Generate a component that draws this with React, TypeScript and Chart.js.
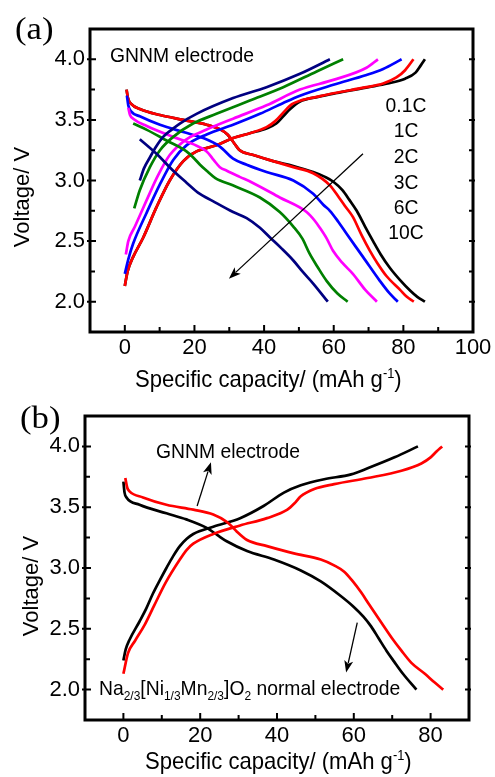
import React, { useEffect, useRef } from "react";
import { Chart, registerables } from "chart.js";
Chart.register(...registerables);

type Pt = [number, number];

const SANS = '"Liberation Sans", Arial, Helvetica, sans-serif';
const SERIF = '"Liberation Serif", "Times New Roman", serif';

// ---------- Panel (a): GNNM electrode at different rates ----------
const rateLabels = ["0.1C", "1C", "2C", "3C", "6C", "10C"];
const rateColors = ["#000000", "#ff0000", "#0000ff", "#ff00ff", "#008000", "#000080"];

const charge01C: Pt[] = [[0,2.13],[0.8,2.25],[2.4,2.37],[5.3,2.53],[9.1,2.78],[12.9,3.0],[16.8,3.16],[20.6,3.24],[26.3,3.29],[31.1,3.35],[35.9,3.39],[40.7,3.43],[43.5,3.47],[45.5,3.53],[47.5,3.59],[50.2,3.65],[55.5,3.69],[60.5,3.72],[70,3.77],[75.5,3.8],[80.5,3.84],[83.5,3.89],[85,3.95],[86.2,4.0]];
const discharge01C: Pt[] = [[0.5,3.75],[0.9,3.68],[1.9,3.63],[4.3,3.59],[10.1,3.54],[16.8,3.5],[23.5,3.46],[27.5,3.42],[29.5,3.38],[31.1,3.32],[33.0,3.25],[36.9,3.21],[42.6,3.16],[48.4,3.12],[54.1,3.07],[57.5,3.03],[59.9,2.99],[62.5,2.92],[64.5,2.84],[66.6,2.75],[69,2.62],[71.3,2.5],[73.5,2.39],[76.1,2.28],[79,2.18],[82,2.09],[84,2.04],[86.2,2.0]];
const charge1C: Pt[] = [[0,2.13],[0.8,2.25],[2.4,2.37],[5.3,2.53],[9.1,2.78],[12.9,3.0],[16.8,3.16],[20.6,3.24],[26.3,3.29],[31.1,3.35],[35.9,3.39],[40.7,3.44],[43.2,3.49],[45.5,3.56],[48,3.63],[50.5,3.66],[55.1,3.69],[59.9,3.72],[69.4,3.77],[74.2,3.8],[78.0,3.85],[80.5,3.91],[82.9,4.0]];
const discharge1C: Pt[] = [[0.5,3.75],[0.9,3.68],[1.9,3.63],[4.3,3.59],[10.1,3.54],[16.8,3.5],[23.5,3.46],[27.5,3.42],[29.5,3.38],[31.1,3.32],[33.0,3.25],[36.9,3.21],[42.6,3.16],[48.4,3.11],[54.1,3.06],[58.9,2.96],[61.5,2.86],[63.5,2.78],[65.5,2.7],[68,2.55],[70.4,2.42],[72.5,2.32],[75.2,2.21],[79,2.1],[81,2.04],[83,2.0]];
const charge2C: Pt[] = [[0,2.23],[1,2.35],[2.4,2.48],[6.2,2.73],[10.1,2.97],[13.9,3.17],[17.7,3.29],[23.5,3.38],[31.1,3.46],[38.8,3.55],[45.5,3.64],[50.3,3.7],[59.9,3.79],[69.4,3.87],[74.2,3.92],[79.5,4.0]];
const discharge2C: Pt[] = [[0.6,3.7],[1.0,3.62],[1.8,3.57],[4.3,3.53],[10.1,3.46],[16.8,3.4],[22.5,3.35],[27.3,3.28],[31.1,3.18],[35.0,3.13],[40.7,3.07],[48.4,3.0],[54.1,2.89],[57,2.8],[58.9,2.75],[61.3,2.66],[63.7,2.56],[68.4,2.37],[73.3,2.17],[76,2.07],[78.4,2.0]];
const charge3C: Pt[] = [[0.3,2.39],[1,2.5],[2.9,2.62],[6.3,2.84],[9.5,3.04],[12.9,3.21],[17.7,3.34],[23.5,3.42],[31.1,3.51],[40.7,3.62],[50.3,3.75],[59.9,3.83],[69.4,3.93],[72.7,4.0]];
const discharge3C: Pt[] = [[1.0,3.6],[1.5,3.54],[2.4,3.51],[6.3,3.45],[13.9,3.36],[19.6,3.3],[23.5,3.24],[25.5,3.17],[27.3,3.11],[29.3,3.08],[33.0,3.03],[36.8,2.98],[44.5,2.86],[52.2,2.74],[54.5,2.67],[56.0,2.61],[58,2.52],[59.8,2.42],[62.5,2.32],[65.5,2.23],[69,2.1],[72.4,2.0]];
const charge6C: Pt[] = [[2.7,2.77],[4.3,2.92],[7.2,3.11],[10.1,3.25],[13.9,3.36],[19.6,3.47],[26.3,3.55],[35.9,3.66],[45.5,3.77],[55.1,3.9],[62.7,4.0]];
const discharge6C: Pt[] = [[2.4,3.47],[6.2,3.42],[12.0,3.33],[17.7,3.24],[20,3.18],[21.6,3.13],[23.5,3.08],[26,3.02],[31.0,2.96],[38.8,2.86],[44.5,2.74],[48.4,2.62],[51,2.52],[53,2.4],[55.5,2.28],[58,2.17],[61,2.07],[64,2.0]];
const charge10C: Pt[] = [[4.3,3.0],[5.5,3.1],[7.2,3.19],[9,3.28],[11.0,3.36],[13.5,3.42],[15.8,3.47],[20.6,3.55],[31.1,3.68],[40.7,3.77],[50.3,3.88],[58.9,4.0]];
const discharge10C: Pt[] = [[4.3,3.34],[9.1,3.22],[13.9,3.08],[17.8,2.98],[21,2.9],[25.3,2.83],[31.1,2.74],[35.0,2.69],[38.8,2.61],[41.7,2.53],[45,2.44],[48.4,2.34],[51,2.25],[54.1,2.15],[58.3,2.0]];

const chargeCurvesA = [charge01C, charge1C, charge2C, charge3C, charge6C, charge10C];
const dischargeCurvesA = [discharge01C, discharge1C, discharge2C, discharge3C, discharge6C, discharge10C];

const xMajorA = [0, 20, 40, 60, 80, 100];
const xMinorA = [10, 30, 50, 70, 90];

// ---------- Panel (b): GNNM vs normal electrode ----------
const chargeNormal: Pt[] = [[0,2.24],[0.6,2.33],[1.6,2.41],[4.2,2.56],[6,2.67],[7.7,2.79],[9.5,2.9],[11.2,3.0],[13,3.1],[14.7,3.18],[16.5,3.24],[18.2,3.28],[23.4,3.34],[30.4,3.41],[36.5,3.51],[41.8,3.62],[46.2,3.68],[52.3,3.73],[59.3,3.77],[63.6,3.82],[70.6,3.91],[76.7,4.0]];
const dischargeNormal: Pt[] = [[0,3.71],[0.3,3.62],[0.8,3.58],[4.2,3.52],[11.2,3.45],[16.4,3.4],[21.7,3.33],[24.5,3.27],[26.9,3.22],[32.2,3.14],[39.2,3.07],[46.2,2.98],[51.4,2.89],[56.6,2.77],[60,2.68],[62.5,2.6],[64.5,2.52],[66.5,2.42],[68.5,2.32],[70.5,2.23],[72.8,2.13],[76.3,2.0]];
const chargeGNNM: Pt[] = [[0,2.13],[1.2,2.3],[3,2.4],[5.5,2.53],[8,2.69],[11,2.88],[14.7,3.07],[16.5,3.15],[18.2,3.2],[23.4,3.28],[30.4,3.35],[37.4,3.41],[42.7,3.48],[44.5,3.53],[46.2,3.59],[49.7,3.65],[54.9,3.69],[63.6,3.74],[72.4,3.8],[77.6,3.86],[80,3.91],[81.6,3.96],[83.0,4.0]];
const dischargeGNNM: Pt[] = [[0.5,3.74],[1.0,3.66],[1.6,3.63],[5.1,3.58],[11.2,3.52],[18.2,3.48],[23.4,3.44],[26.9,3.38],[28.3,3.34],[29.5,3.3],[32.2,3.23],[37.4,3.18],[44.4,3.12],[51.4,3.07],[55,3.02],[57.5,2.97],[59.5,2.9],[61.9,2.8],[64,2.7],[67.2,2.55],[70,2.42],[72.4,2.32],[75,2.22],[78.5,2.13],[81,2.06],[83.3,2.0]];

const xMajorB = [0, 20, 40, 60, 80];
const xMinorB = [10, 30, 50, 70];

const yMajor = [2.0, 2.5, 3.0, 3.5, 4.0];
const yMinor = [2.25, 2.75, 3.25, 3.75];

// ---------- helpers ----------
type Run = { t: string; size: number; dy?: number };

function runsWidth(ctx: any, runs: Run[], sx: number, family: string) {
  let w = 0;
  for (const r of runs) {
    ctx.font = `${r.size}px ${family}`;
    w += ctx.measureText(r.t).width * sx;
  }
  return w;
}

function drawRuns(ctx: any, runs: Run[], x: number, y: number, sx = 1, family = SANS, align = "left") {
  ctx.save();
  ctx.fillStyle = "#000";
  ctx.textAlign = "left";
  ctx.textBaseline = "alphabetic";
  let cx = x;
  if (align === "center") cx = x - runsWidth(ctx, runs, sx, family) / 2;
  for (const r of runs) {
    ctx.font = `${r.size}px ${family}`;
    const w = ctx.measureText(r.t).width * sx;
    ctx.save();
    ctx.translate(cx, y + (r.dy || 0));
    ctx.scale(sx, 1);
    ctx.fillText(r.t, 0, 0);
    ctx.restore();
    cx += w;
  }
  ctx.restore();
}

function drawArrow(chart: any, from: Pt, to: Pt) {
  const { ctx, scales } = chart;
  const x1 = scales.x.getPixelForValue(from[0]);
  const y1 = scales.y.getPixelForValue(from[1]);
  const x2 = scales.x.getPixelForValue(to[0]);
  const y2 = scales.y.getPixelForValue(to[1]);
  const ang = Math.atan2(y2 - y1, x2 - x1);
  const hl = 12, hw = 4.5;
  ctx.save();
  ctx.strokeStyle = "#000";
  ctx.fillStyle = "#000";
  ctx.lineWidth = 1.3;
  ctx.beginPath();
  ctx.moveTo(x1, y1);
  ctx.lineTo(x2 - Math.cos(ang) * hl * 0.8, y2 - Math.sin(ang) * hl * 0.8);
  ctx.stroke();
  ctx.beginPath();
  ctx.moveTo(x2, y2);
  ctx.lineTo(x2 - Math.cos(ang) * hl - Math.sin(ang) * hw, y2 - Math.sin(ang) * hl + Math.cos(ang) * hw);
  ctx.lineTo(x2 - Math.cos(ang) * hl * 0.75, y2 - Math.sin(ang) * hl * 0.75);
  ctx.lineTo(x2 - Math.cos(ang) * hl + Math.sin(ang) * hw, y2 - Math.sin(ang) * hl - Math.cos(ang) * hw);
  ctx.closePath();
  ctx.fill();
  ctx.restore();
}

function drawFrame(chart: any, xMajor: number[], xMinor: number[]) {
  const { ctx, chartArea: a, scales } = chart;
  const xs = scales.x, ys = scales.y;
  ctx.save();
  ctx.strokeStyle = "#000";
  ctx.lineWidth = 2;
  ctx.beginPath();
  for (const v of xMajor) {
    const p = xs.getPixelForValue(v);
    ctx.moveTo(p, a.bottom);
    ctx.lineTo(p, a.bottom - 7);
  }
  for (const v of xMinor) {
    const p = xs.getPixelForValue(v);
    ctx.moveTo(p, a.bottom);
    ctx.lineTo(p, a.bottom - 5);
  }
  for (const v of yMajor) {
    const p = ys.getPixelForValue(v);
    ctx.moveTo(a.left - 3, p);
    ctx.lineTo(a.left + 6, p);
    ctx.moveTo(a.right + 2, p);
    ctx.lineTo(a.right - 4, p);
  }
  for (const v of yMinor) {
    const p = ys.getPixelForValue(v);
    ctx.moveTo(a.left, p);
    ctx.lineTo(a.left + 5, p);
    ctx.moveTo(a.right, p);
    ctx.lineTo(a.right - 4, p);
  }
  ctx.stroke();
  ctx.lineWidth = 3;
  ctx.lineJoin = "miter";
  ctx.strokeRect(a.left, a.top, a.right - a.left, a.bottom - a.top);
  ctx.restore();
}

function drawYTitle(ctx: any, baselineX: number, centerY: number) {
  ctx.save();
  ctx.fillStyle = "#000";
  ctx.font = `22px ${SANS}`;
  ctx.textAlign = "center";
  ctx.textBaseline = "alphabetic";
  ctx.translate(baselineX, centerY);
  ctx.rotate(-Math.PI / 2);
  ctx.fillText("Voltage/ V", 0, 0);
  ctx.restore();
}

function drawXTitle(ctx: any, x: number, baseline: number) {
  drawRuns(ctx, [
    { t: "Specific capacity/ (mAh g", size: 24 },
    { t: "-1", size: 14, dy: -9 },
    { t: ")", size: 24 },
  ], x, baseline, 0.92);
}

function lineDataset(label: string, pts: Pt[], color: string, order: number) {
  return {
    label,
    data: pts.map(([x, y]) => ({ x, y })),
    borderColor: color,
    backgroundColor: color,
    borderWidth: 2.7,
    pointRadius: 0,
    pointHoverRadius: 0,
    cubicInterpolationMode: "monotone",
    fill: false,
    order,
  };
}

function axes(xMin: number, xMax: number, xTicks: number[], xHeight: number, yWidth: number) {
  const tickFont = { family: SANS, size: 22 };
  return {
    x: {
      type: "linear",
      min: xMin,
      max: xMax,
      afterBuildTicks: (s: any) => { s.ticks = xTicks.map((v) => ({ value: v })); },
      afterFit: (s: any) => { s.height = xHeight; },
      grid: { display: false, drawTicks: false },
      border: { display: false },
      ticks: { font: tickFont, color: "#000", padding: 3, maxRotation: 0, autoSkip: false, callback: (v: any) => String(v) },
    },
    y: {
      type: "linear",
      min: 1.75,
      max: 4.25,
      afterBuildTicks: (s: any) => { s.ticks = yMajor.map((v) => ({ value: v })); },
      afterFit: (s: any) => { s.width = yWidth; },
      grid: { display: false, drawTicks: false },
      border: { display: false },
      ticks: { font: tickFont, color: "#000", padding: 5, autoSkip: false, callback: (v: any) => Number(v).toFixed(1) },
    },
  };
}

export default function App() {
  const refA = useRef<HTMLCanvasElement | null>(null);
  const refB = useRef<HTMLCanvasElement | null>(null);

  useEffect(() => {
    Chart.defaults.font.family = SANS;

    const datasetsA: any[] = [];
    rateLabels.forEach((lab, i) => {
      const order = rateLabels.length - 1 - i;
      datasetsA.push(lineDataset(lab + " charge", chargeCurvesA[i], rateColors[i], order));
      datasetsA.push(lineDataset(lab + " discharge", dischargeCurvesA[i], rateColors[i], order));
    });
    // red (1C) above black (0.1C)
    datasetsA[0].order = 6; datasetsA[1].order = 6;
    datasetsA[2].order = 5; datasetsA[3].order = 5;

    const pluginA = {
      id: "decorA",
      afterDraw(chart: any) {
        const ctx = chart.ctx;
        drawFrame(chart, xMajorA, xMinorA);
        drawRuns(ctx, [{ t: "(a)", size: 31 }], 15, 39, 1.12, SERIF);
        drawYTitle(ctx, 29, 197);
        drawXTitle(ctx, 135, 387);
        drawRuns(ctx, [{ t: "GNNM electrode", size: 21 }], 110, 62, 0.92);
        const baselines = [112, 137, 163, 189, 214, 239];
        rateLabels.forEach((lab, i) => drawRuns(ctx, [{ t: lab, size: 21 }], 406, baselines[i], 0.92, SANS, "center"));
        drawArrow(chart, [68.4, 3.22], [29.9, 2.19]);
      },
    };

    const chartA = new Chart(refA.current as any, {
      type: "line",
      data: { datasets: datasetsA },
      options: {
        responsive: false,
        animation: false,
        devicePixelRatio: 1,
        layout: { padding: { top: 29, right: 22, left: 0, bottom: 0 } },
        plugins: { legend: { display: false }, tooltip: { enabled: false } },
        events: [],
        scales: axes(-10, 100, xMajorA, 68, 90) as any,
      },
      plugins: [pluginA],
    } as any);

    const datasetsB: any[] = [
      lineDataset("GNNM charge", chargeGNNM, "#ff0000", 0),
      lineDataset("GNNM discharge", dischargeGNNM, "#ff0000", 0),
      lineDataset("Normal charge", chargeNormal, "#000000", 1),
      lineDataset("Normal discharge", dischargeNormal, "#000000", 1),
    ];

    const pluginB = {
      id: "decorB",
      afterDraw(chart: any) {
        const ctx = chart.ctx;
        drawFrame(chart, xMajorB, xMinorB);
        drawRuns(ctx, [{ t: "(b)", size: 31 }], 20, 37.5, 1.12, SERIF);
        drawYTitle(ctx, 38, 196);
        drawXTitle(ctx, 145, 379);
        drawRuns(ctx, [{ t: "GNNM electrode", size: 21 }], 156, 68, 0.92);
        drawRuns(ctx, [
          { t: "Na", size: 21 },
          { t: "2/3", size: 13, dy: 5 },
          { t: "[Ni", size: 21 },
          { t: "1/3", size: 13, dy: 5 },
          { t: "Mn", size: 21 },
          { t: "2/3", size: 13, dy: 5 },
          { t: "]O", size: 21 },
          { t: "2", size: 13, dy: 5 },
          { t: " normal electrode", size: 21 },
        ], 99, 305, 0.92);
        drawArrow(chart, [19.2, 3.51], [22.8, 3.87]);
        drawArrow(chart, [60.9, 2.55], [58.0, 2.14]);
      },
    };

    const chartB = new Chart(refB.current as any, {
      type: "line",
      data: { datasets: datasetsB },
      options: {
        responsive: false,
        animation: false,
        devicePixelRatio: 1,
        layout: { padding: { top: 26, right: 26, left: 0, bottom: 0 } },
        plugins: { legend: { display: false }, tooltip: { enabled: false } },
        events: [],
        scales: axes(-10, 90, xMajorB, 57, 85) as any,
      },
      plugins: [pluginB],
    } as any);

    return () => {
      chartA.destroy();
      chartB.destroy();
    };
  }, []);

  return (
    <div style={{ position: "fixed", left: 0, top: 0, width: 495, height: 777, background: "#fff", overflow: "hidden" }}>
      <canvas ref={refA} width={495} height={400} style={{ position: "absolute", left: 0, top: 0 }} />
      <canvas ref={refB} width={495} height={387} style={{ position: "absolute", left: 0, top: 390 }} />
    </div>
  );
}
